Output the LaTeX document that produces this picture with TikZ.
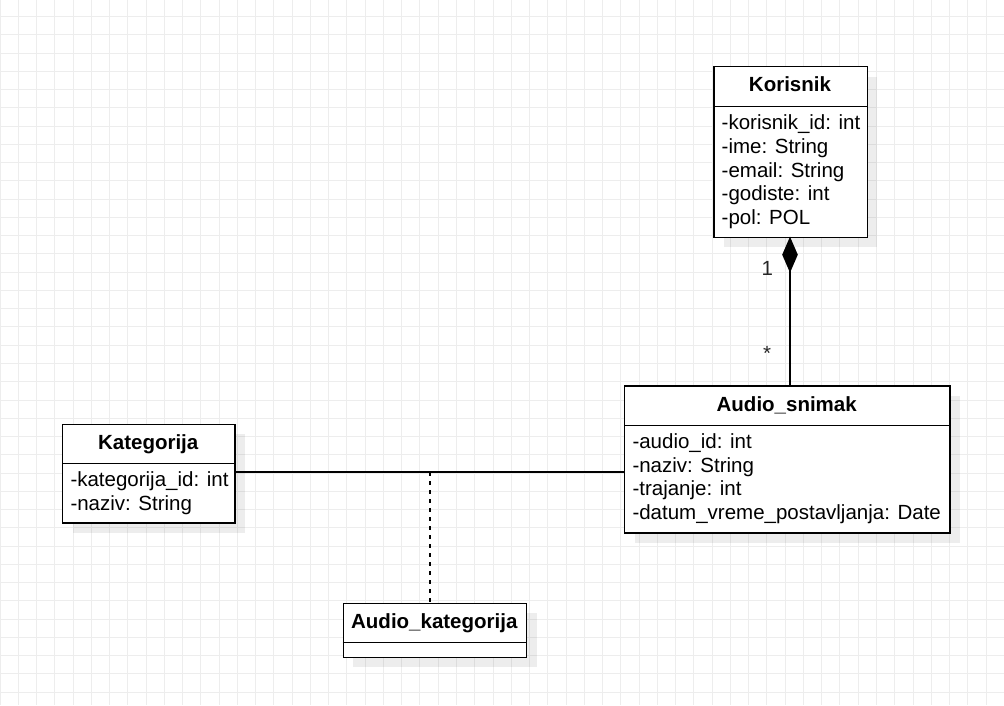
\documentclass[tikz,border=0pt]{standalone}
\usepackage{fontspec}
\setmainfont{Liberation Sans}
\usetikzlibrary{arrows.meta,shadows,calc}
\tikzset{
  gridline/.style={draw=black!7, line width=1pt},
  cls/.style={draw=black, line width=1.4pt, fill=white, anchor=north west, inner sep=0pt,
    drop shadow={shadow xshift=10pt, shadow yshift=-10pt, fill=black, opacity=0.07}},
  divider/.style={draw=black, line width=1.4pt},
  ttl/.style={anchor=base, inner sep=0pt, font=\fontsize{20.5}{24}\selectfont\bfseries},
  attr/.style={anchor=base west, inner sep=0pt, font=\fontsize{20.5}{24}\selectfont, align=left},
  lbl/.style={anchor=base, inner sep=0pt, font=\fontsize{20.5}{24}\selectfont, text=black!85},
  conn/.style={draw=black, line width=1.4pt},
  dashconn/.style={draw=black, line width=1.4pt, dash pattern=on 4pt off 5pt},
}
\begin{document}
\begin{tikzpicture}[x=1pt, y=-1pt]
\useasboundingbox (0,0) rectangle (1004,705);
\fill[white] (0,0) rectangle (1004,705);
% grid
\foreach \i in {0,...,55} \draw[gridline] (\i*18.26,0) -- (\i*18.26,705);
\foreach \j in {1,...,39} \draw[gridline] (0,\j*18.26-1.7) -- (1004,\j*18.26-1.7);

% Korisnik
\node[cls, minimum width=153.4pt, minimum height=170.7pt] (kor) at (713.3,66) {};
\draw[divider] (713.3,106.7) -- (866.7,106.7);
\node[ttl] (korT) at (790,91.8) {Korisnik};
\node[attr] (korA) at (721.5,129.7) {-korisnik\_id: int};
\node[attr] (korB) at (721.5,153.3) {-ime: String};
\node[attr] (korC) at (721.5,177.0) {-email: String};
\node[attr] (korD) at (721.5,200.6) {-godiste: int};
\node[attr] (korE) at (721.5,224.2) {-pol: POL};

% Audio_snimak
\node[cls, minimum width=325.3pt, minimum height=147pt] (aud) at (624,385.3) {};
\draw[divider] (624,425.7) -- (949.3,425.7);
\node[ttl] (audT) at (786.7,411.5) {Audio\_snimak};
\node[attr] (audA) at (632.3,448.5) {-audio\_id: int};
\node[attr] (audB) at (632.3,472.2) {-naziv: String};
\node[attr] (audC) at (632.3,495.9) {-trajanje: int};
\node[attr] (audD) at (632.3,519.6) {-datum\_vreme\_postavljanja: Date};

% Kategorija
\node[cls, minimum width=172.3pt, minimum height=98.6pt] (kat) at (62,423.7) {};
\draw[divider] (62,463.3) -- (234.3,463.3);
\node[ttl] (katT) at (148.2,449.3) {Kategorija};
\node[attr] (katA) at (70.3,486.3) {-kategorija\_id: int};
\node[attr] (katB) at (70.3,510) {-naziv: String};

% Audio_kategorija
\node[cls, minimum width=183.3pt, minimum height=54pt] (ak) at (342.7,602.7) {};
\draw[divider] (342.7,642.3) -- (526,642.3);
\node[ttl] (akT) at (434.3,628.5) {Audio\_kategorija};

% connectors
\draw[conn] (kat.east |- 0,472) coordinate (assocL) -- (aud.west |- 0,472) coordinate (assocR);
\coordinate (assocM) at ($(assocL)!0.5!(assocR)$);
\draw[dashconn] (assocM) -- (assocM |- ak.north);

\coordinate (compTop) at (790,236.7);
\draw[conn, -{Diamond[length=36pt, width=15.6pt, line width=0pt]}] (compTop |- aud.north) -- (compTop);

\node[lbl] (one) at (767.3,275.7) {1};
\node[lbl] (many) at (767,360.5) {*};
\end{tikzpicture}
\end{document}
